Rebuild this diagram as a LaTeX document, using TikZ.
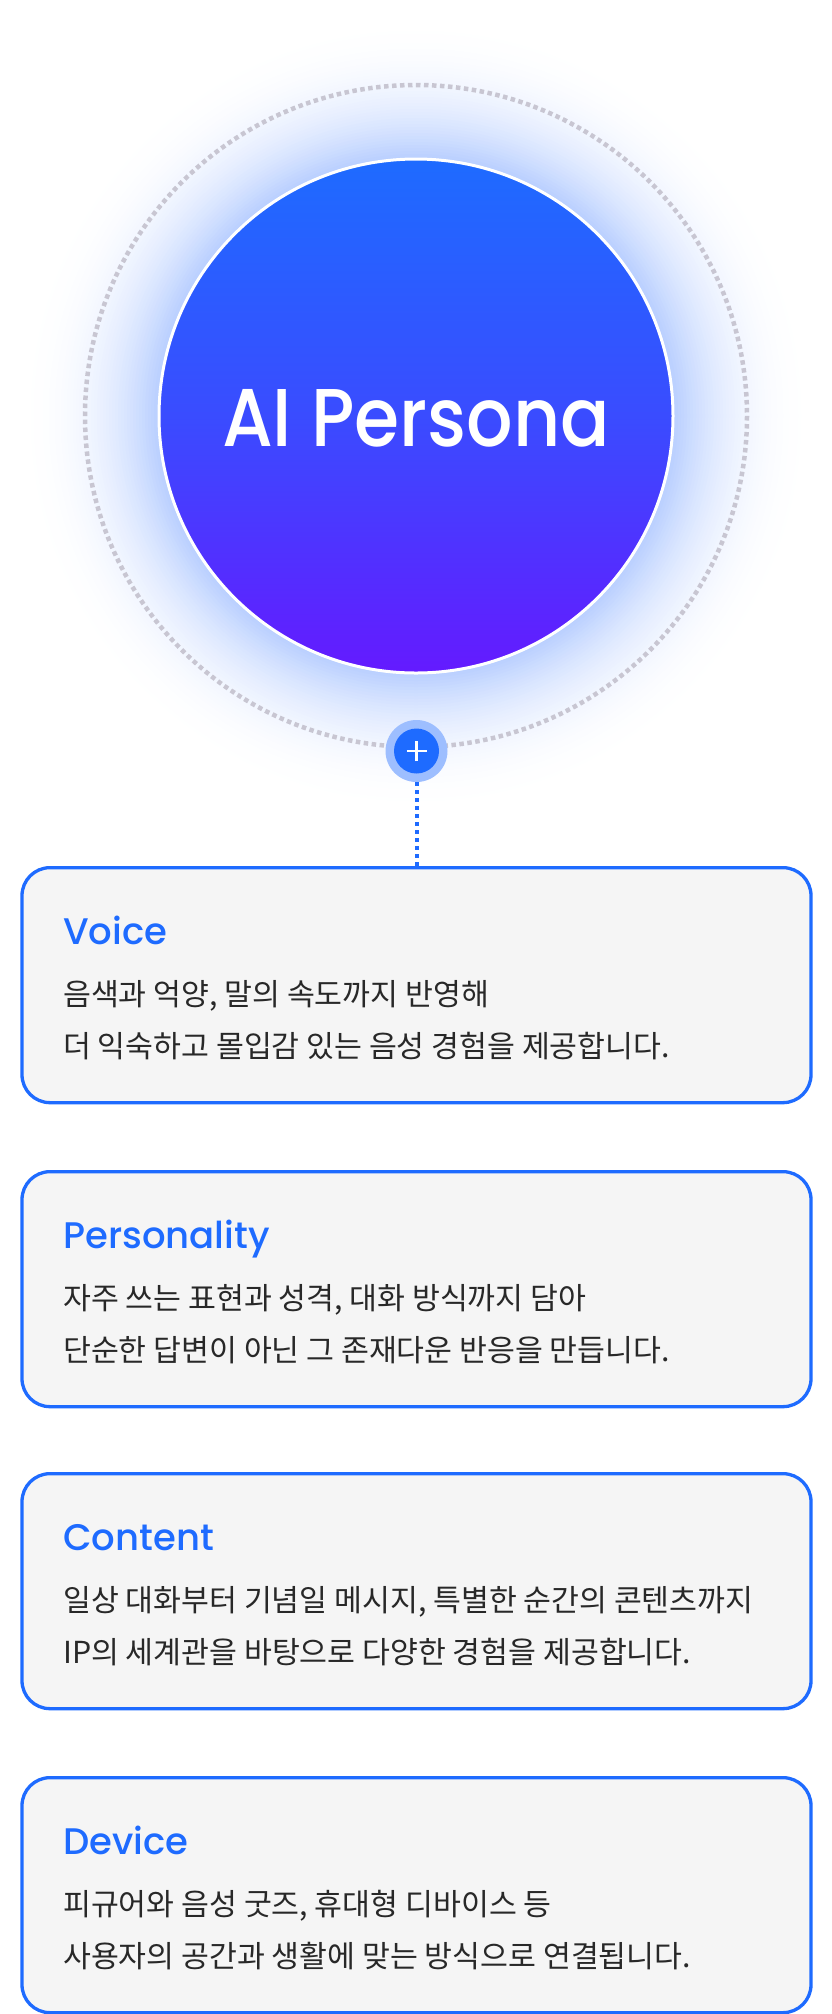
\documentclass[tikz,border=0pt]{standalone}
\usepackage{fontspec}
\newfontfamily\krfont{Noto Sans CJK KR}
\newfontfamily\titlefont{Poppins Medium}
\definecolor{brand}{RGB}{30,107,255}
\definecolor{purp}{RGB}{100,26,255}
\definecolor{midc}{RGB}{58,76,255}
\definecolor{cardfill}{RGB}{245,245,245}
\definecolor{bodytxt}{RGB}{40,40,40}
\definecolor{ringgray}{RGB}{200,198,210}
\definecolor{halo}{RGB}{157,190,255}
\definecolor{glowA}{RGB}{182,205,255}
\tikzset{
  card/.style={draw=brand, line width=3.3pt, fill=cardfill, rounded corners=28pt, minimum width=789pt, minimum height=235pt, inner sep=0pt, anchor=north},
  cardtitle/.style={anchor=base west, inner sep=0pt, text=brand, font=\titlefont\fontsize{37}{40}\selectfont},
  cardbody/.style={anchor=base west, inner sep=0pt, text=bodytxt, font=\krfont\fontsize{30.3}{34}\selectfont},
  dotline/.style={draw=brand, line width=4pt, dash pattern=on 4pt off 4pt},
}
\begin{document}
\begin{tikzpicture}[x=1pt,y=-1pt]
\useasboundingbox (0,0) rectangle (832,2014);
\fill[white] (0,0) rectangle (832,2014);
% glow
\foreach \r in {400,397,...,259} {
  \pgfmathsetmacro\p{100*((1-(\r-257)/143)^2.3)}
  \fill[glowA!\p!white] (416,416) circle (\r);
}
% dotted ring
\draw[ringgray, line width=4.5pt, dash pattern=on 4.5pt off 3.5pt] (416,416) circle (331);
% main circle
\node[circle, minimum size=514pt, inner sep=0pt, draw=white, line width=3pt,
  top color=brand, bottom color=purp, middle color=midc] (persona) at (416,416) {};
\node[inner sep=0pt, text=white, font=\titlefont\fontsize{82}{90}\selectfont] (personalabel) at (416,418) {\scalebox{0.89}[1]{AI Persona}};
% cards
\node[card] (c1) at (416.5,866) {};
\node[card] (c2) at (416.5,1170) {};
\node[card] (c3) at (416.5,1472) {};
\node[card] (c4) at (416.5,1776) {};
% connector
\node[circle, minimum size=62pt, inner sep=0pt, fill=halo] (plus) at (416.5,751) {};
\draw[dotline] (plus.south) -- (c1.north);
\node[circle, minimum size=45pt, inner sep=0pt, fill=brand] (plusin) at (plus.center) {};
\draw[white, line width=2.5pt] ([xshift=-10pt]plusin.center) -- ([xshift=10pt]plusin.center);
\draw[white, line width=2.5pt] ([yshift=-10pt]plusin.center) -- ([yshift=10pt]plusin.center);
% texts
\node[cardtitle] (t1) at (63,944) {Voice};
\node[cardbody] (b1a) at (63,1005) {음색과 억양, 말의 속도까지 반영해};
\node[cardbody] (b1b) at (63,1057) {더 익숙하고 몰입감 있는 음성 경험을 제공합니다.};
\node[cardtitle] (t2) at (63,1248) {Personality};
\node[cardbody] (b2a) at (63,1309) {자주 쓰는 표현과 성격, 대화 방식까지 담아};
\node[cardbody] (b2b) at (63,1361) {단순한 답변이 아닌 그 존재다운 반응을 만듭니다.};
\node[cardtitle] (t3) at (63,1550) {Content};
\node[cardbody] (b3a) at (63,1611) {일상 대화부터 기념일 메시지, 특별한 순간의 콘텐츠까지};
\node[cardbody] (b3b) at (63,1663) {IP의 세계관을 바탕으로 다양한 경험을 제공합니다.};
\node[cardtitle] (t4) at (63,1854) {Device};
\node[cardbody] (b4a) at (63,1915) {피규어와 음성 굿즈, 휴대형 디바이스 등};
\node[cardbody] (b4b) at (63,1967) {사용자의 공간과 생활에 맞는 방식으로 연결됩니다.};
\end{tikzpicture}
\end{document}
